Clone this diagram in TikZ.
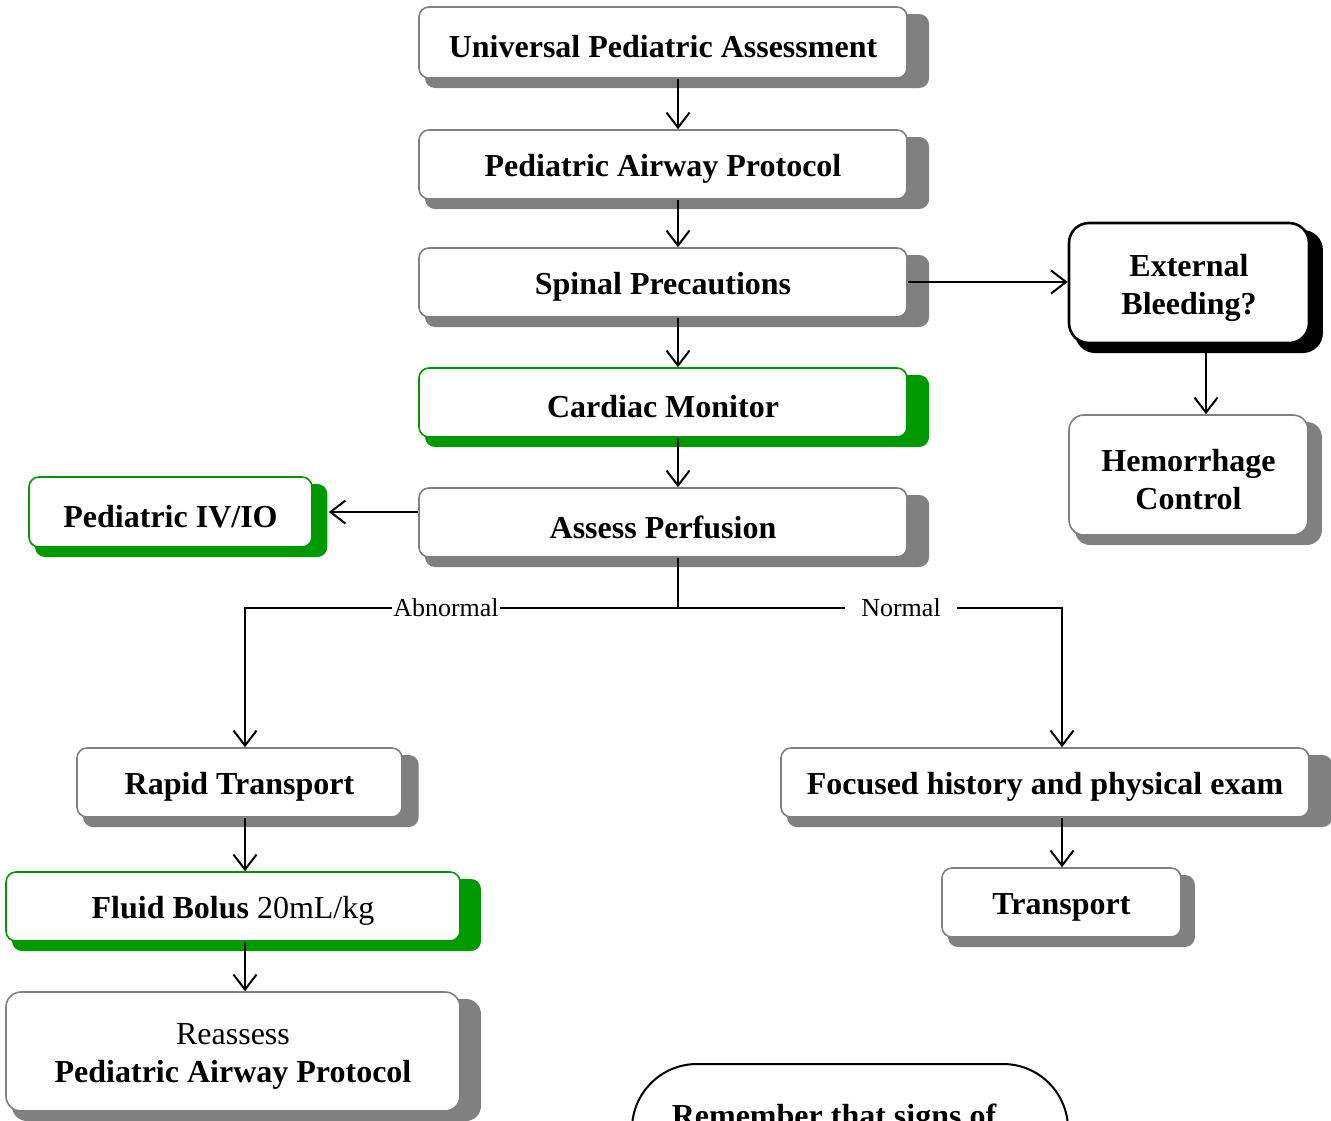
\documentclass[tikz,border=0pt]{standalone}
\usepackage{fontspec}
\setmainfont{Liberation Serif}
\usetikzlibrary{arrows.meta}
\definecolor{boxgray}{HTML}{808080}
\definecolor{boxgreen}{HTML}{009900}
\colorlet{grayshade}{boxgray}
\colorlet{greenshade}{boxgreen}
\colorlet{blackshade}{black}
\tikzset{
  boxbase/.style={rectangle, fill=white, inner sep=0pt},
  boxtext/.style={align=center, inner sep=0pt, yshift=-4.5pt,
    font=\bfseries\fontsize{32}{38}\selectfont, text=black},
  graybox/.style={boxbase, draw=boxgray, line width=1.6pt},
  greenbox/.style={boxbase, draw=boxgreen, line width=1.6pt},
  blackbox/.style={boxbase, draw=black, line width=2.6pt},
  conn/.style={line width=2pt, draw=black},
  arr/.style={conn, -{Straight Barb[length=15pt,width=23pt,line width=2pt]}},
  lbl/.style={font=\fontsize{26}{30}\selectfont, fill=white, inner ysep=2pt},
}
\newcommand\shbox[8]{%
  \fill[#2shade, rounded corners=#7] ({#3+6},{#4+7}) rectangle ({#5+6+0.033*(#5-#3)},{#6+10});
  \node[#2box, rounded corners=#7, minimum width={#5pt-#3pt}, minimum height={#6pt-#4pt},
    label={[boxtext]center:{#8}}]
    (#1) at ({(#3+#5)/2},{(#4+#6)/2}) {};
}
\begin{document}
\begin{tikzpicture}[x=1pt,y=-1pt]
\useasboundingbox (0,0) rectangle (1331,1120);
\clip (0,0) rectangle (1331,1120);
\fill[white] (0,0) rectangle (1331,1120);

\shbox{ua}{gray}{419}{7}{907}{78}{10pt}{Universal Pediatric Assessment}
\shbox{pap}{gray}{419}{130}{907}{199}{10pt}{Pediatric Airway Protocol}
\shbox{sp}{gray}{419}{248}{907}{317}{10pt}{Spinal Precautions}
\shbox{cm}{green}{419}{368}{907}{437}{10pt}{Cardiac Monitor}
\shbox{ap}{gray}{419}{488}{907}{557}{10pt}{Assess Perfusion}
\shbox{iv}{green}{29}{477}{312}{547}{10pt}{Pediatric IV/IO}
\shbox{ext}{black}{1069}{223}{1309}{343}{20pt}{External\\Bleeding?}
\shbox{hem}{gray}{1069}{415}{1308}{535}{15pt}{Hemorrhage\\Control}
\shbox{rt}{gray}{77}{748}{402}{817}{10pt}{Rapid Transport}
\shbox{fh}{gray}{781}{748}{1309}{817}{10pt}{Focused history and physical exam}
\shbox{tr}{gray}{942}{868}{1181}{937}{10pt}{Transport}
\shbox{fb}{green}{6}{872}{460}{941}{10pt}{Fluid Bolus {\mdseries 20mL/kg}}
\shbox{re}{gray}{6}{992}{460}{1111}{15pt}{{\mdseries Reassess}\\Pediatric Airway Protocol}

% reminder box (cut by the page edge, as in the reference)
\node[draw=black, line width=2pt, rounded corners=65pt, inner sep=0pt,
  minimum width=436pt, minimum height=236pt] (remb) at (850,1182) {};
\node[anchor=base, font=\bfseries\fontsize{32}{38}\selectfont] (remt) at (834,1126) {Remember that signs of};

% connector columns
\coordinate (colA) at (678,0);
\coordinate (colE) at (1206,0);
\coordinate (colL) at (245,0);
\coordinate (colR) at (1062,0);
\coordinate (jm) at (678,608);
\coordinate (jl) at (245,608);
\coordinate (jr) at (1062,608);

\draw[arr] (ua.south -| colA) -- (pap.north -| colA);
\draw[arr] (pap.south -| colA) -- (sp.north -| colA);
\draw[arr] (sp.south -| colA) -- (cm.north -| colA);
\draw[arr] (cm.south -| colA) -- (ap.north -| colA);
\draw[arr] (sp.east |- 0,282) -- (ext.west |- 0,282);
\draw[arr] (ext.south -| colE) -- (hem.north -| colE);
\draw[arr, shorten >=16pt] (ap.west |- 0,512) -- (iv.east |- 0,512);

\draw[conn] (ap.south -| colA) -- (jm);
\draw[arr] (jm) -- (jl) -- (rt.north -| jl);
\draw[arr] (jm) -- (jr) -- (fh.north -| jr);
\node[lbl, inner xsep=1pt] (abn) at (446,608) {Abnormal};
\node[lbl, inner xsep=16pt] (nor) at (901,608) {Normal};

\draw[arr] (rt.south -| colL) -- (fb.north -| colL);
\draw[arr] (fb.south -| colL) -- (re.north -| colL);
\draw[arr] (fh.south -| colR) -- (tr.north -| colR);
\end{tikzpicture}
\end{document}
